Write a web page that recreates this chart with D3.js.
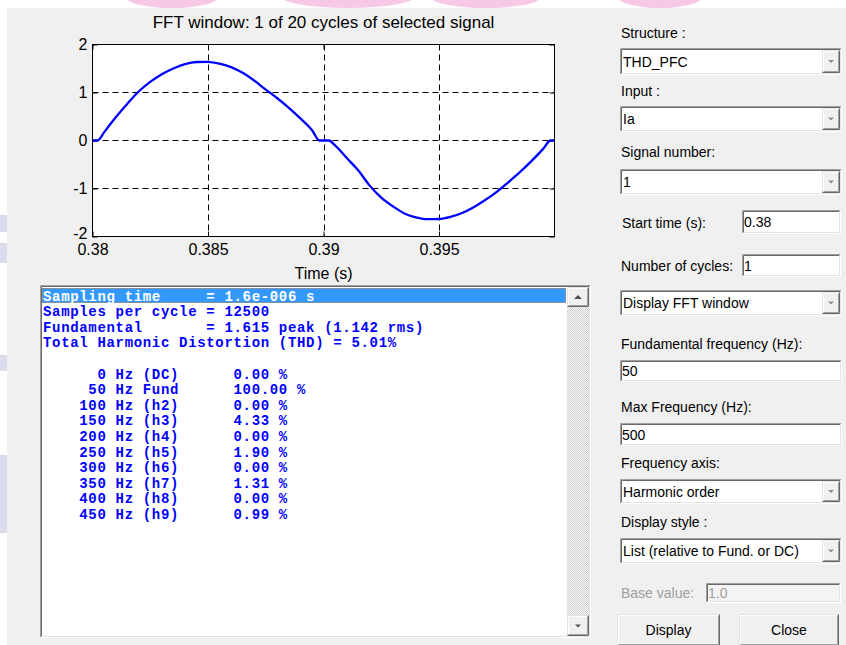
<!DOCTYPE html>
<html>
<head>
<meta charset="utf-8">
<script src="https://cdn.jsdelivr.net/npm/d3@7"></script>
<style>
  body { margin: 0; background: #fff; overflow: hidden; }
  svg { display: block; }
  .ui { font-family: "Liberation Sans", Arial, sans-serif; font-size: 14px; }
  .mono { font-family: "Liberation Mono", "Courier New", monospace; font-size: 14px; font-weight: bold; letter-spacing: 0.67px; white-space: pre; }
</style>
</head>
<body>
<script>
// signal (one cycle, 0.38 s .. 0.40 s)
const timeS = [0.38000, 0.38022, 0.38050, 0.38080, 0.38100, 0.38150, 0.38200, 0.38250, 0.38300,
  0.38350, 0.38400, 0.38450, 0.38500, 0.38550, 0.38600, 0.38650, 0.38700, 0.38750, 0.38800,
  0.38850, 0.38900, 0.38950, 0.38982, 0.39000, 0.39023, 0.39050, 0.39100, 0.39150, 0.39200,
  0.39250, 0.39300, 0.39350, 0.39400, 0.39450, 0.39500, 0.39550, 0.39600, 0.39650, 0.39700,
  0.39750, 0.39800, 0.39850, 0.39900, 0.39950, 0.39983, 0.40000];
const currentA = [0, 0, 0.17, 0.36, 0.48, 0.76, 1.02, 1.22, 1.38,
  1.50, 1.59, 1.635, 1.64, 1.60, 1.53, 1.41, 1.25, 1.06, 0.88,
  0.68, 0.46, 0.22, 0, 0, 0, -0.10, -0.36, -0.62, -0.94,
  -1.19, -1.37, -1.52, -1.60, -1.64, -1.635, -1.59, -1.51, -1.39, -1.24,
  -1.07, -0.87, -0.66, -0.43, -0.18, 0, 0];

const xTicks = [0.38, 0.385, 0.39, 0.395];
const yTicks = [-2, -1, 0, 1, 2];

// FFT result list
const harmonicFreq = [0, 50, 100, 150, 200, 250, 300, 350, 400, 450];
const harmonicName = ['(DC)', 'Fund', '(h2)', '(h3)', '(h4)', '(h5)', '(h6)', '(h7)', '(h8)', '(h9)'];
const harmonicPct = [0.00, 100.00, 0.00, 4.33, 0.00, 1.90, 0.00, 1.31, 0.00, 0.99];
const summaryLines = [
  'Sampling time     = 1.6e-006 s',
  'Samples per cycle = 12500',
  'Fundamental       = 1.615 peak (1.142 rms)',
  'Total Harmonic Distortion (THD) = 5.01%'
];

const width = 846;
const height = 645;

const svg = d3.select('body').append('svg')
  .attr('width', width)
  .attr('height', height);

// pattern for the scrollbar track
const defs = svg.append('defs');
const pat = defs.append('pattern').attr('id', 'dither')
  .attr('width', 2).attr('height', 2).attr('patternUnits', 'userSpaceOnUse');
pat.append('rect').attr('width', 2).attr('height', 2).attr('fill', '#fafafa');
pat.append('rect').attr('width', 1).attr('height', 1).attr('fill', '#cfcfcf');
pat.append('rect').attr('x', 1).attr('y', 1).attr('width', 1).attr('height', 1).attr('fill', '#cfcfcf');

defs.append('clipPath').attr('id', 'topstrip').append('rect').attr('width', width).attr('height', 8);
defs.append('clipPath').attr('id', 'leftstrip').append('rect').attr('width', 7).attr('height', height);

// faint watermark bits around the window
const wm = svg.append('g').attr('clip-path', 'url(#topstrip)').attr('fill', '#f8c9e6');
[[172, -3, 46, 11], [348, -4, 68, 12], [486, -3, 55, 11], [660, -3, 42, 11]].forEach(e => {
  wm.append('ellipse').attr('cx', e[0]).attr('cy', e[1]).attr('rx', e[2]).attr('ry', e[3]);
});
const wl = svg.append('g').attr('clip-path', 'url(#leftstrip)').attr('fill', '#dcdcef');
[[215, 17], [243, 20], [355, 16], [455, 78]].forEach(r => {
  wl.append('rect').attr('x', 0).attr('y', r[0]).attr('width', 7).attr('height', r[1]);
});

// figure background
svg.append('rect').attr('x', 7).attr('y', 8).attr('width', width - 7).attr('height', height - 8)
  .attr('fill', '#f0f0f0');

// ---------- plot ----------
const plot = { left: 92.5, right: 554.5, top: 44.5, bottom: 236.5 };

const x = d3.scaleLinear().domain([0.38, 0.40]).range([plot.left, plot.right]);
const y = d3.scaleLinear().domain([-2, 2]).range([plot.bottom, plot.top]);

const g = svg.append('g');

g.append('rect')
  .attr('x', plot.left).attr('y', plot.top)
  .attr('width', plot.right - plot.left).attr('height', plot.bottom - plot.top)
  .attr('fill', '#fff');

// dashed grid
g.append('g').selectAll('line')
  .data(xTicks.slice(1))
  .join('line')
  .attr('x1', d => Math.round(x(d)) + 0.5).attr('x2', d => Math.round(x(d)) + 0.5)
  .attr('y1', plot.top).attr('y2', plot.bottom)
  .attr('stroke', '#000').attr('stroke-dasharray', '6,4');
g.append('g').selectAll('line')
  .data(yTicks.slice(1, -1))
  .join('line')
  .attr('y1', d => y(d)).attr('y2', d => y(d))
  .attr('x1', plot.left).attr('x2', plot.right)
  .attr('stroke', '#000').attr('stroke-dasharray', '6,4');

// axes with inward ticks on all four sides
const fmt = d => String(+d.toFixed(3));
const styleAxis = sel => {
  sel.select('.domain').remove();
  sel.selectAll('text').attr('font-family', '"Liberation Sans", Arial, sans-serif')
    .attr('font-size', 16).attr('fill', '#000');
  sel.selectAll('line').attr('stroke', '#000');
};

g.append('g').attr('transform', `translate(0,${plot.bottom})`)
  .call(d3.axisBottom(x).tickValues(xTicks).tickFormat(fmt).tickSize(-5).tickPadding(7))
  .call(styleAxis);
g.append('g').attr('transform', `translate(0,${plot.top})`)
  .call(d3.axisTop(x).tickValues(xTicks).tickFormat('').tickSize(-5))
  .call(styleAxis);
g.append('g').attr('transform', `translate(${plot.left},0)`)
  .call(d3.axisLeft(y).tickValues(yTicks).tickFormat(d => String(d)).tickSize(-5).tickPadding(5))
  .call(styleAxis)
  .selectAll('.tick text').attr('dy', d => d === -2 ? '0.15em' : '0.32em');
g.append('g').attr('transform', `translate(${plot.right},0)`)
  .call(d3.axisRight(y).tickValues(yTicks).tickFormat('').tickSize(-5))
  .call(styleAxis);

// signal
const line = d3.line()
  .x((d, i) => x(timeS[i]))
  .y(d => y(d))
  .curve(d3.curveMonotoneX);

g.append('path')
  .datum(currentA)
  .attr('d', line)
  .attr('fill', 'none')
  .attr('stroke', '#0000ff')
  .attr('stroke-width', 2.3)
  .attr('stroke-linejoin', 'round');

g.append('rect')
  .attr('x', plot.left).attr('y', plot.top)
  .attr('width', plot.right - plot.left).attr('height', plot.bottom - plot.top)
  .attr('fill', 'none').attr('stroke', '#000');

g.append('text')
  .attr('x', (plot.left + plot.right) / 2).attr('y', 28)
  .attr('text-anchor', 'middle')
  .attr('font-family', '"Liberation Sans", Arial, sans-serif').attr('font-size', 17)
  .text('FFT window: 1 of 20 cycles of selected signal');

g.append('text')
  .attr('x', (plot.left + plot.right) / 2).attr('y', 279)
  .attr('text-anchor', 'middle')
  .attr('font-family', '"Liberation Sans", Arial, sans-serif').attr('font-size', 16)
  .text('Time (s)');

// ---------- widget helpers ----------
function sunken(p, x0, y0, w, h, fill) {
  p.append('rect').attr('x', x0).attr('y', y0).attr('width', w).attr('height', h).attr('fill', fill || '#fff');
  p.append('path').attr('d', `M${x0 + 0.5},${y0 + h - 0.5}V${y0 + 0.5}H${x0 + w - 0.5}`)
    .attr('fill', 'none').attr('stroke', '#a0a0a0');
  p.append('path').attr('d', `M${x0 + 1.5},${y0 + h - 1.5}V${y0 + 1.5}H${x0 + w - 1.5}`)
    .attr('fill', 'none').attr('stroke', '#696969');
  p.append('path').attr('d', `M${x0 + 0.5},${y0 + h - 0.5}H${x0 + w - 0.5}V${y0 + 0.5}`)
    .attr('fill', 'none').attr('stroke', '#ffffff');
  p.append('path').attr('d', `M${x0 + 1.5},${y0 + h - 1.5}H${x0 + w - 1.5}V${y0 + 1.5}`)
    .attr('fill', 'none').attr('stroke', '#e3e3e3');
}

function raised(p, x0, y0, w, h) {
  p.append('rect').attr('x', x0).attr('y', y0).attr('width', w).attr('height', h).attr('fill', '#f0f0f0');
  p.append('path').attr('d', `M${x0 + 0.5},${y0 + h - 0.5}V${y0 + 0.5}H${x0 + w - 0.5}`)
    .attr('fill', 'none').attr('stroke', '#e3e3e3');
  p.append('path').attr('d', `M${x0 + 1.5},${y0 + h - 1.5}V${y0 + 1.5}H${x0 + w - 1.5}`)
    .attr('fill', 'none').attr('stroke', '#ffffff');
  p.append('path').attr('d', `M${x0 + 0.5},${y0 + h - 0.5}H${x0 + w - 0.5}V${y0 + 0.5}`)
    .attr('fill', 'none').attr('stroke', '#696969');
  p.append('path').attr('d', `M${x0 + 1.5},${y0 + h - 1.5}H${x0 + w - 1.5}V${y0 + 1.5}`)
    .attr('fill', 'none').attr('stroke', '#a0a0a0');
}

function arrow(p, cx, cy, up, color) {
  const d = up ? `M${cx - 4},${cy + 2}L${cx + 4},${cy + 2}L${cx},${cy - 2}Z`
               : `M${cx - 3},${cy - 1.5}L${cx + 3},${cy - 1.5}L${cx},${cy + 1.5}Z`;
  p.append('path').attr('d', d).attr('fill', color);
}

function label(p, x0, y0, txt, color) {
  p.append('text').attr('class', 'ui').attr('x', x0).attr('y', y0 + 5)
    .attr('fill', color || '#000').text(txt);
}

function popup(p, x0, y0, w, h, txt) {
  sunken(p, x0, y0, w, h);
  raised(p, x0 + w - 20, y0 + 2, 18, h - 4);
  arrow(p, x0 + w - 11, y0 + h / 2, false, '#8c8c8c');
  label(p, x0 + 3, y0 + h / 2, txt);
}

function edit(p, x0, y0, w, h, txt, disabled) {
  sunken(p, x0, y0, w, h, disabled ? '#f4f4f4' : '#fff');
  label(p, x0 + 2, y0 + h / 2, txt, disabled ? '#a0a0a0' : '#000');
}

function button(p, x0, y0, w, h, txt) {
  raised(p, x0, y0, w, h);
  p.append('text').attr('class', 'ui').attr('x', x0 + w / 2).attr('y', y0 + h / 2 + 5)
    .attr('text-anchor', 'middle').text(txt);
}

// ---------- results list box ----------
const lb = svg.append('g');
sunken(lb, 40, 285, 551, 353);
lb.append('rect').attr('x', 567).attr('y', 287).attr('width', 22).attr('height', 349).attr('fill', 'url(#dither)');
raised(lb, 567, 287, 22, 20);
arrow(lb, 578, 297, true, '#505050');
raised(lb, 567, 615, 22, 21);
arrow(lb, 578, 626, false, '#505050');

lb.append('rect').attr('x', 42).attr('y', 288).attr('width', 524).attr('height', 15).attr('fill', '#3399ff');
lb.append('rect').attr('x', 42.5).attr('y', 288.5).attr('width', 523).attr('height', 14)
  .attr('fill', 'none').attr('stroke', '#d9893d').attr('stroke-dasharray', '1,1');

const rows = summaryLines.concat([''], harmonicFreq.map((f, i) =>
  `${String(f).padStart(7)} Hz ${harmonicName[i]}      ${harmonicPct[i].toFixed(2)} %`));

lb.selectAll('text.mono')
  .data(rows)
  .join('text')
  .attr('class', 'mono')
  .attr('x', 43)
  .attr('y', (d, i) => 300.5 + i * 15.6)
  .attr('fill', (d, i) => i === 0 ? '#ffffff' : '#0000ff')
  .text(d => d);

// ---------- right hand controls ----------
const ctl = svg.append('g');
label(ctl, 621, 33, 'Structure :');
popup(ctl, 620, 48, 222, 27, 'THD_PFC');
label(ctl, 621, 91, 'Input :');
popup(ctl, 620, 106, 222, 26, 'Ia');
label(ctl, 621, 152, 'Signal number:');
popup(ctl, 620, 169, 222, 26, '1');
label(ctl, 622, 223, 'Start time (s):');
edit(ctl, 742, 210, 99, 24, '0.38');
label(ctl, 621, 266, 'Number of cycles:');
edit(ctl, 742, 254, 99, 23, '1');
popup(ctl, 620, 290, 222, 26, 'Display FFT window');
label(ctl, 621, 344, 'Fundamental frequency (Hz):');
edit(ctl, 620, 360, 222, 22, '50');
label(ctl, 621, 407, 'Max Frequency (Hz):');
edit(ctl, 620, 423, 222, 23, '500');
label(ctl, 621, 463, 'Frequency axis:');
popup(ctl, 620, 479, 222, 25, 'Harmonic order');
label(ctl, 621, 522, 'Display style :');
popup(ctl, 620, 538, 222, 26, 'List (relative to Fund. or DC)');
label(ctl, 621, 593, 'Base value:', '#a0a0a0');
edit(ctl, 706, 583, 135, 20, '1.0', true);
button(ctl, 617, 614, 103, 32, 'Display');
button(ctl, 739, 614, 100, 32, 'Close');
</script>
</body>
</html>
